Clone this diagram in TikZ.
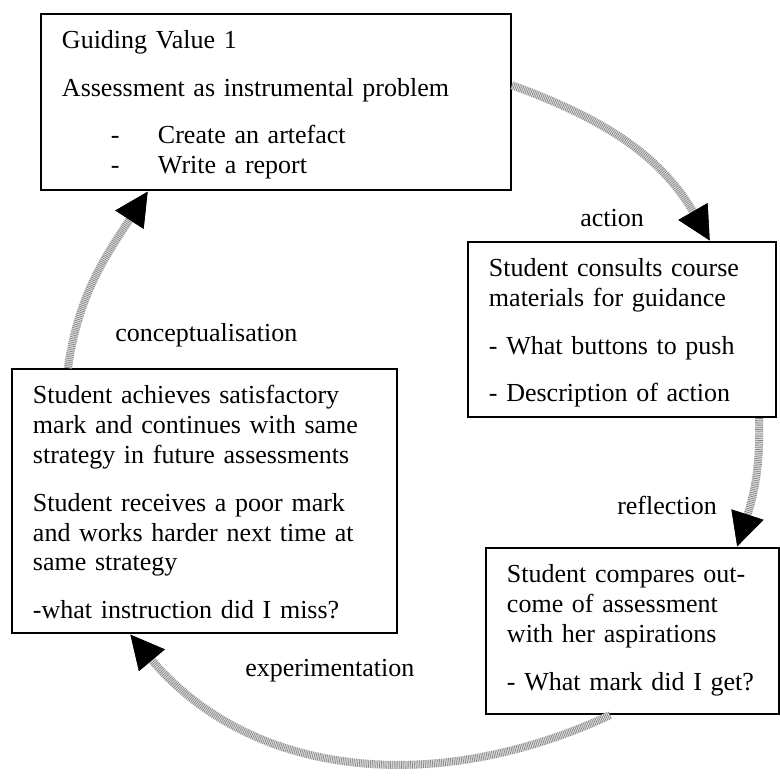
\documentclass[tikz,border=0pt]{standalone}
\usepackage{fontspec}
\setmainfont{Liberation Serif}
\usetikzlibrary{arrows.meta}

\begin{document}
\begin{tikzpicture}[every node/.style={font=\fontsize{18.5}{21.3}\selectfont},
  box/.style={draw, line width=1.4pt, anchor=north west, align=left, inner xsep=0.525cm, inner ysep=0.42cm, text height=0.45cm},
  lbl/.style={anchor=base west, inner sep=0pt},
  cyc/.style={line width=0.2cm, color=black!12, -{Triangle[length=0.85cm,width=0.78cm,color=black]}, postaction={draw, color=black!48, dash pattern=on 0.5pt off 0.8pt}}]
\useasboundingbox (0,0) rectangle (19.5,19.4);

\node[box, text width=10.7cm, text depth=3.115cm] (gv) at (1.0,19.075) {Guiding Value 1\\[12.45pt]
Assessment as instrumental problem\\[12.45pt]
\makebox[2.4cm][l]{\hspace{1.225cm}-}Create an artefact\\
\makebox[2.4cm][l]{\hspace{1.225cm}-}Write a report};

\node[box, text width=6.65cm, text depth=3.09cm] (consult) at (11.675,13.375) {Student consults course\\
materials for guidance\\[12.45pt]
- What buttons to push\\[12.45pt]
- Description of action};

\node[box, text width=6.275cm, text depth=2.865cm] (compare) at (12.125,5.725) {Student compares out-\\
come of assessment\\
with her aspirations\\[12.45pt]
- What mark did I get?};

\node[box, text width=8.575cm, text depth=5.315cm] (achieve) at (0.275,10.2) {Student achieves satisfactory\\
mark and continues with same\\
strategy in future assessments\\[12.45pt]
Student receives a poor mark\\
and works harder next time at\\
same strategy\\[12.45pt]
-what instruction did I miss?};

\node[lbl] (act) at (14.5,13.725) {action};
\node[lbl] (refl) at (15.425,6.525) {reflection};
\node[lbl] (expt) at (6.125,2.475) {experimentation};
\node[lbl] (concept) at (2.875,10.85) {conceptualisation};

\draw[cyc] ([yshift=0.42cm]gv.east) to[out=-20,in=120] ([xshift=6.075cm]consult.north west);
\draw[cyc] ([xshift=7.3cm]consult.south west) to[out=-88,in=72] ([xshift=6.3cm]compare.north west);
\draw[cyc] ([xshift=3.125cm]compare.south west) to[out=-155,in=-50] ([xshift=2.975cm]achieve.south west);
\draw[cyc] ([xshift=1.425cm]achieve.north west) to[out=82,in=-123] ([xshift=2.7cm]gv.south west);
\end{tikzpicture}
\end{document}
